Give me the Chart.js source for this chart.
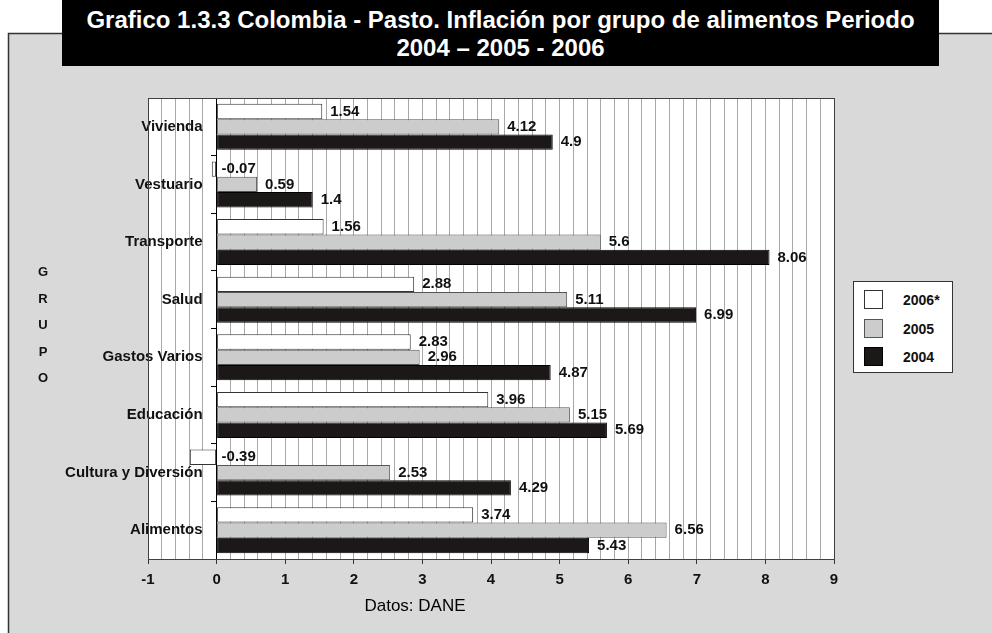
<!DOCTYPE html>
<html lang="es">
<head>
<meta charset="utf-8">
<title>Inflación por grupo - Pasto</title>
<script src="https://cdn.jsdelivr.net/npm/chart.js@4.4.1/dist/chart.umd.min.js"></script>
<style>
  html, body { margin: 0; padding: 0; background: #fff; }
  body { width: 992px; height: 633px; position: relative; overflow: hidden; font-family: 'Liberation Sans', Arial, sans-serif; }
  #chart { position: absolute; left: 0; top: 0; }
  .titulo {
    position: absolute; left: 62px; top: 0; width: 877px; height: 66px;
    background: #000; color: #fff; font-weight: bold; font-size: 24px;
    line-height: 28px; text-align: center; padding-top: 6px; box-sizing: border-box;
  }
  .grupo {
    position: absolute; left: 35px; top: 259px; width: 16px;
    font-weight: bold; font-size: 13px; line-height: 26.5px; text-align: center; color: #111;
  }
  .fuente { position: absolute; left: 315px; top: 596px; width: 200px; text-align: center; font-size: 17px; color: #000; }
  #leyenda {
    position: absolute; left: 853px; top: 281px; width: 100px; height: 92px;
    background: #fff; border: 1px solid #333; box-sizing: border-box;
  }
  #leyenda .item { position: absolute; left: 10px; height: 20px; font-weight: bold; font-size: 14px; line-height: 20px; color: #111; }
  #leyenda .caja { position: absolute; left: 0; top: 0; width: 19px; height: 19px; box-sizing: border-box; border: 1px solid #333; }
  #leyenda .txt { position: absolute; left: 39px; top: 0; white-space: nowrap; }
</style>
</head>
<body>
<canvas id="chart" width="992" height="633"></canvas>
<div class="titulo">Grafico 1.3.3 Colombia - Pasto. Inflación por grupo de alimentos Periodo<br>2004 – 2005 - 2006</div>
<div class="grupo">G<br>R<br>U<br>P<br>O</div>
<div id="leyenda"></div>
<div class="fuente">Datos: DANE</div>
<script>
const categories = ['Vivienda', 'Vestuario', 'Transporte', 'Salud', 'Gastos Varios', 'Educación', 'Cultura y Diversión', 'Alimentos'];
const seriesNames = ['2006*', '2005', '2004'];
const values2006 = [1.54, -0.07, 1.56, 2.88, 2.83, 3.96, -0.39, 3.74];
const values2005 = [4.12, 0.59, 5.6, 5.11, 2.96, 5.15, 2.53, 6.56];
const values2004 = [4.9, 1.4, 8.06, 6.99, 4.87, 5.69, 4.29, 5.43];
const xMin = -1;
const xMax = 9;

const fills = ['#ffffff', '#cccccc', '#1c1818'];
const edges = ['#333333', '#555555', '#000000'];
const fontFamily = "'Liberation Sans', Arial, sans-serif";
const labelGap = 14; // space between category names and the zero axis

const isWhole = v => Math.abs(v - Math.round(v)) < 1e-6;

// gray panel, white plot background and plot frame
const panel = {
  id: 'panel',
  beforeDraw(chart) {
    const { ctx, chartArea: a } = chart;
    ctx.save();
    ctx.fillStyle = '#d9d9d9';
    ctx.fillRect(8, 33, chart.width - 8, chart.height - 33);
    ctx.strokeStyle = '#333';
    ctx.lineWidth = 1.5;
    ctx.beginPath();
    ctx.moveTo(8.5, chart.height);
    ctx.lineTo(8.5, 33.5);
    ctx.lineTo(chart.width, 33.5);
    ctx.stroke();
    ctx.fillStyle = '#ffffff';
    ctx.fillRect(a.left, a.top, a.right - a.left, a.bottom - a.top);
    ctx.restore();

    // the y axis sits on x = 0; push its names a little to the left of it
    const items = chart.scales.y.getLabelItems(a);
    if (!items.shifted) {
      items.forEach(it => { it.options.translation[0] -= labelGap; });
      items.shifted = true;
    }
  },
  afterDraw(chart) {
    const { ctx, chartArea: a } = chart;
    ctx.save();
    ctx.strokeStyle = '#404040';
    ctx.lineWidth = 1;
    ctx.strokeRect(Math.round(a.left) + 0.5, Math.round(a.top) + 0.5, Math.round(a.right - a.left), Math.round(a.bottom - a.top));
    ctx.restore();
  }
};

// value labels at the end of each bar
const valueLabels = {
  id: 'valueLabels',
  afterDatasetsDraw(chart) {
    const { ctx } = chart;
    const zero = chart.scales.x.getPixelForValue(0);
    ctx.save();
    ctx.font = 'bold 15px ' + fontFamily;
    ctx.fillStyle = '#111';
    ctx.textAlign = 'left';
    ctx.textBaseline = 'middle';
    chart.data.datasets.forEach((ds, i) => {
      chart.getDatasetMeta(i).data.forEach((bar, j) => {
        const v = ds.data[j];
        const x = v < 0 ? zero + 5 : bar.x + 8;
        ctx.fillText(String(v), x, bar.y);
      });
    });
    ctx.restore();
  }
};

const chart = new Chart(document.getElementById('chart'), {
  type: 'bar',
  data: {
    labels: categories,
    datasets: [values2006, values2005, values2004].map((vals, i) => ({
      label: seriesNames[i],
      data: vals,
      backgroundColor: fills[i],
      borderColor: edges[i],
      borderWidth: 1,
      borderSkipped: false,
      categoryPercentage: 0.8,
      barPercentage: 1.0
    }))
  },
  options: {
    indexAxis: 'y',
    responsive: false,
    animation: false,
    devicePixelRatio: 1,
    layout: { padding: { left: 148, right: 158, top: 98, bottom: 49 } },
    plugins: {
      legend: { display: false },
      tooltip: { enabled: false }
    },
    scales: {
      x: {
        type: 'linear',
        min: xMin,
        max: xMax,
        afterFit(scale) { scale.height = 25; },
        ticks: {
          stepSize: 0.2,
          autoSkip: false,
          maxRotation: 0,
          padding: 7,
          color: '#111',
          font: { family: fontFamily, size: 15, weight: 'bold' },
          callback: v => (isWhole(v) ? String(Math.round(v)) : '')
        },
        grid: {
          color: '#a8a8a8',
          tickColor: ctx => (isWhole(ctx.tick.value) ? '#333' : 'rgba(0,0,0,0)'),
          tickLength: 5,
          lineWidth: 1
        },
        border: { color: '#404040', width: 1 }
      },
      y: {
        position: { x: 0 },
        ticks: {
          color: '#111',
          font: { family: fontFamily, size: 15, weight: 'bold' }
        },
        grid: {
          drawOnChartArea: false,
          offset: true,
          tickLength: 5,
          color: '#000'
        },
        border: { color: '#000', width: 1 }
      }
    }
  },
  plugins: [panel, valueLabels]
});

// legend built from the datasets
const leyenda = document.getElementById('leyenda');
chart.data.datasets.forEach((ds, i) => {
  const item = document.createElement('div');
  item.className = 'item';
  item.style.top = (8 + i * 28.5) + 'px';
  item.innerHTML = '<span class="caja" style="background:' + ds.backgroundColor + ';border-color:' + ds.borderColor + '"></span><span class="txt">' + ds.label + '</span>';
  leyenda.appendChild(item);
});
</script>
</body>
</html>
